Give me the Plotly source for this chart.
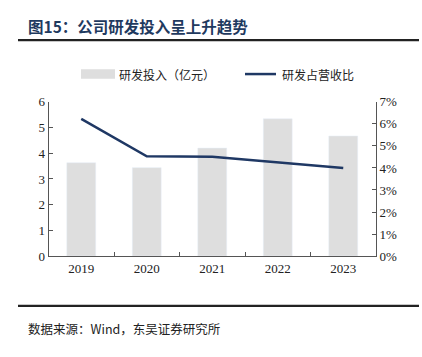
import plotly.graph_objects as go

years = ["2019", "2020", "2021", "2022", "2023"]
rd_spend = [3.63, 3.44, 4.20, 5.34, 4.67]          # 研发投入（亿元）
rd_ratio = [0.0623, 0.0453, 0.0451, 0.0425, 0.0400]  # 研发占营收比

W, H = 422, 357
def px(x): return x / W
def py(y): return 1 - y / H

SERIF = "Liberation Serif, Noto Serif CJK SC, Noto Sans CJK SC, serif"
CJK = "Noto Sans CJK SC, Liberation Serif, serif"
BAR_C = "#DEDEDE"
LINE_C = "#1F3864"
AX_C = "#555555"

fig = go.Figure()
fig.add_trace(go.Bar(x=years, y=rd_spend, marker_color=BAR_C, width=0.44,
                     name="研发投入（亿元）", yaxis="y"))
fig.add_trace(go.Scatter(x=years, y=rd_ratio, mode="lines",
                         line=dict(color=LINE_C, width=2.5),
                         name="研发占营收比", yaxis="y2"))

fig.update_layout(
    width=W, height=H,
    margin=dict(l=0, r=0, t=0, b=0),
    paper_bgcolor="white", plot_bgcolor="white",
    showlegend=False,
    font=dict(family=SERIF, size=12, color="#222222"),
    xaxis=dict(domain=[px(48.5), px(376)], type="category",
               showline=True, linecolor=AX_C, linewidth=1,
               ticks="inside", tickson="boundaries", ticklen=4, tickcolor=AX_C,
               showgrid=False, tickfont=dict(family=SERIF, size=13, color="#222")),
    yaxis=dict(domain=[py(260), py(99)], range=[0, 6], dtick=1,
               showline=True, linecolor=AX_C, linewidth=1,
               ticks="inside", ticklen=4, tickcolor=AX_C,
               showgrid=False, zeroline=False,
               tickfont=dict(family=SERIF, size=13, color="#222")),
    yaxis2=dict(overlaying="y", side="right", range=[0, 0.07], dtick=0.01,
                tickformat=".0%", showline=True, linecolor=AX_C, linewidth=1,
                ticks="inside", ticklen=4, tickcolor=AX_C,
                showgrid=False, zeroline=False,
                tickfont=dict(family=SERIF, size=13, color="#222")),
)

shapes = [
    dict(type="line", xref="paper", yref="paper", x0=px(18), x1=px(419),
         y0=py(34.5), y1=py(34.5), line=dict(color="#222222", width=2.2)),
    dict(type="line", xref="paper", yref="paper", x0=px(18), x1=px(419),
         y0=py(312), y1=py(312), line=dict(color="#222222", width=2.2)),
    # legend swatches
    dict(type="rect", xref="paper", yref="paper", x0=px(81), x1=px(115),
         y0=py(75), y1=py(65), fillcolor=BAR_C, line=dict(width=0)),
    dict(type="line", xref="paper", yref="paper", x0=px(245), x1=px(276),
         y0=py(70), y1=py(70), line=dict(color=LINE_C, width=2.5)),
]
fig.update_layout(shapes=shapes)

annos = [
    dict(text="<b>图15：公司研发投入呈上升趋势</b>", x=px(26), y=py(20),
         xanchor="left", yanchor="middle",
         font=dict(family=CJK, size=15.5, color="#1F3A5F")),
    dict(text="研发投入（亿元）", x=px(117), y=py(70), xanchor="left", yanchor="middle",
         font=dict(family=CJK, size=12, color="#222")),
    dict(text="研发占营收比", x=px(280), y=py(70), xanchor="left", yanchor="middle",
         font=dict(family=CJK, size=12, color="#222")),
    dict(text="数据来源：Wind，东吴证券研究所", x=px(26), y=py(336), xanchor="left",
         yanchor="middle", font=dict(family=CJK, size=12.5, color="#222")),
]
for a in annos:
    a.update(xref="paper", yref="paper", showarrow=False)
fig.update_layout(annotations=annos)

fig.write_html("out.html", config={"displayModeBar": False},
               post_script="document.body.style.margin='0';document.body.style.overflow='hidden';")
